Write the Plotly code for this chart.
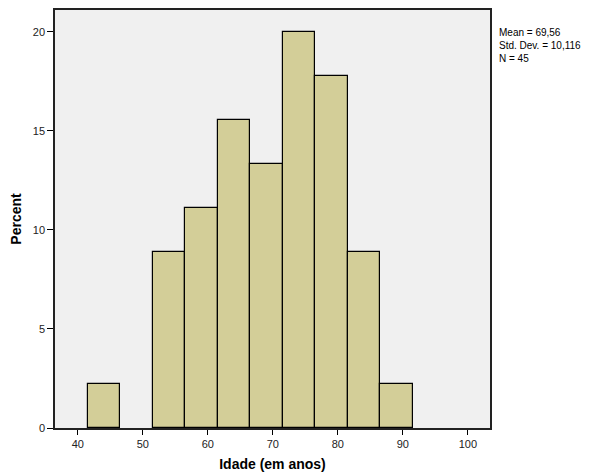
import plotly.graph_objects as go

bin_centers = [44, 54, 59, 64, 69, 74, 79, 84, 89]
percents = [2.22, 8.89, 11.11, 15.56, 13.33, 20.0, 17.78, 8.89, 2.22]
x_ticks = [40, 50, 60, 70, 80, 90, 100]
y_ticks = [0, 5, 10, 15, 20]
stats_lines = ["Mean = 69,56", "Std. Dev. = 10,116", "N = 45"]

fig = go.Figure()
fig.add_trace(go.Bar(
    x=bin_centers, y=percents, width=5,
    marker=dict(color="#d3ce98", line=dict(color="#000000", width=1.2)),
    showlegend=False,
))

fig.update_layout(
    width=593, height=473,
    margin=dict(l=55, r=103, t=10, b=45, autoexpand=False),
    paper_bgcolor="white",
    plot_bgcolor="#f0f0f0",
    font=dict(family="Liberation Sans, Arial, sans-serif", color="#222222", size=11),
    bargap=0,
)
fig.update_xaxes(
    range=[36.5, 103.4], tickvals=x_ticks, ticks="outside", ticklen=5,
    tickcolor="#000", showline=True, linecolor="#222", linewidth=1.5, mirror=True,
    showgrid=False, zeroline=False, automargin=False,
    title=dict(text="<b>Idade (em anos)</b>", font=dict(size=14, color="#000"), standoff=10),
)
fig.update_yaxes(
    range=[0, 21.1], tickvals=y_ticks, ticks="outside", ticklen=6,
    tickcolor="#000", showline=True, linecolor="#222", linewidth=1.5, mirror=True,
    showgrid=False, zeroline=False, automargin=False,
    title=dict(text="<b>Percent</b>", font=dict(size=14, color="#000"), standoff=8),
)
fig.add_annotation(
    text="<br>".join(stats_lines), xref="paper", yref="paper", x=1.018, y=0.914,
    xanchor="left", yanchor="middle", showarrow=False, align="left",
    borderpad=0, font=dict(size=10, color="#000"),
)
fig.write_html(
    "out.html",
    config={"displayModeBar": False},
    post_script="document.body.style.margin='0';document.body.style.overflow='hidden';",
)
